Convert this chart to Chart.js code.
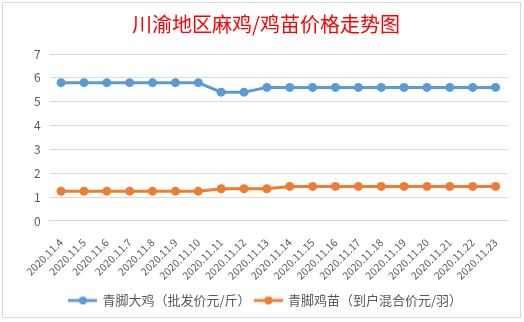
<!DOCTYPE html>
<html>
<head>
<meta charset="utf-8">
<script src="https://cdn.jsdelivr.net/npm/chart.js@4/dist/chart.umd.min.js"></script>
<style>
  html, body { margin: 0; padding: 0; background: #fff; }
  #frame {
    position: absolute; left: 2px; top: 2px; width: 519px; height: 316px;
    border: 1px solid #d9d9d9; box-sizing: border-box; background: #fff;
  }
  #wrap { position: absolute; left: 0; top: 0; width: 524px; height: 322px; }
</style>
</head>
<body>
<div id="frame"></div>
<div id="wrap"><canvas id="chart" width="524" height="322"></canvas></div>
<script>
// dates on the x axis
const dates = [
  "2020.11.4", "2020.11.5", "2020.11.6", "2020.11.7", "2020.11.8",
  "2020.11.9", "2020.11.10", "2020.11.11", "2020.11.12", "2020.11.13",
  "2020.11.14", "2020.11.15", "2020.11.16", "2020.11.17", "2020.11.18",
  "2020.11.19", "2020.11.20", "2020.11.21", "2020.11.22", "2020.11.23"
];

// 青脚大鸡 wholesale price, yuan per jin
const bigChicken = [5.8, 5.8, 5.8, 5.8, 5.8, 5.8, 5.8, 5.4, 5.4, 5.6,
                    5.6, 5.6, 5.6, 5.6, 5.6, 5.6, 5.6, 5.6, 5.6, 5.6];

// 青脚鸡苗 chick price, yuan each
const chicks = [1.25, 1.25, 1.25, 1.25, 1.25, 1.25, 1.25, 1.35, 1.35, 1.35,
                1.45, 1.45, 1.45, 1.45, 1.45, 1.45, 1.45, 1.45, 1.45, 1.45];

const seriesNames = ["青脚大鸡（批发价元/斤）", "青脚鸡苗（到户混合价元/羽）"];
const yTicks = [0, 1, 2, 3, 4, 5, 6, 7];

const BLUE = "#5b9bd5";
const ORANGE = "#ed7d31";
const FONT = "'Noto Sans CJK SC', 'Noto Sans', sans-serif";

// legend marker: short line with a dot in the middle
function legendMarker(color) {
  const c = document.createElement("canvas");
  c.width = 29;
  c.height = 10;
  const g = c.getContext("2d");
  g.strokeStyle = color;
  g.lineWidth = 3;
  g.beginPath();
  g.moveTo(0, 5);
  g.lineTo(29, 5);
  g.stroke();
  g.fillStyle = color;
  g.beginPath();
  g.arc(14.5, 5, 4, 0, Math.PI * 2);
  g.fill();
  return c;
}
const markers = [legendMarker(BLUE), legendMarker(ORANGE)];

function makeSeries(label, data, color) {
  return {
    label: label,
    data: data,
    borderColor: color,
    backgroundColor: color,
    borderWidth: 3,
    pointStyle: "circle",
    pointRadius: 4.5,
    pointHoverRadius: 4.5,
    pointBorderWidth: 0,
    tension: 0
  };
}

new Chart(document.getElementById("chart").getContext("2d"), {
  type: "line",
  data: {
    labels: dates,
    datasets: [
      makeSeries(seriesNames[0], bigChicken, BLUE),
      makeSeries(seriesNames[1], chicks, ORANGE)
    ]
  },
  options: {
    responsive: false,
    animation: false,
    layout: { padding: { left: 25, right: 17, top: 6, bottom: 5 } },
    plugins: {
      title: {
        display: true,
        text: "川渝地区麻鸡/鸡苗价格走势图",
        color: "#ff0000",
        font: { family: FONT, size: 20, weight: "normal" },
        padding: { top: 6, bottom: 18 }
      },
      legend: {
        position: "bottom",
        labels: {
          color: "#595959",
          font: { family: FONT, size: 13 },
          usePointStyle: true,
          pointStyleWidth: 26,
          padding: 5,
          generateLabels(chart) {
            return chart.data.datasets.map((ds, i) => ({
              text: ds.label,
              fillStyle: ds.borderColor,
              strokeStyle: ds.borderColor,
              fontColor: "#595959",
              pointStyle: markers[i],
              lineWidth: 0,
              hidden: false,
              datasetIndex: i
            }));
          }
        }
      },
      tooltip: { enabled: false }
    },
    scales: {
      x: {
        offset: true,
        grid: { display: false },
        border: { display: true, color: "#d9d9d9" },
        ticks: {
          autoSkip: false,
          maxRotation: 45,
          minRotation: 45,
          color: "#595959",
          font: { family: FONT, size: 10.5 },
          padding: 7
        }
      },
      y: {
        min: 0,
        max: 7,
        afterBuildTicks(axis) {
          axis.ticks = yTicks.map(v => ({ value: v }));
        },
        grid: { color: "#d9d9d9", lineWidth: 1, drawTicks: false },
        border: { display: false },
        ticks: {
          color: "#595959",
          font: { family: FONT, size: 12 },
          padding: 9
        }
      }
    }
  }
});
</script>
</body>
</html>
